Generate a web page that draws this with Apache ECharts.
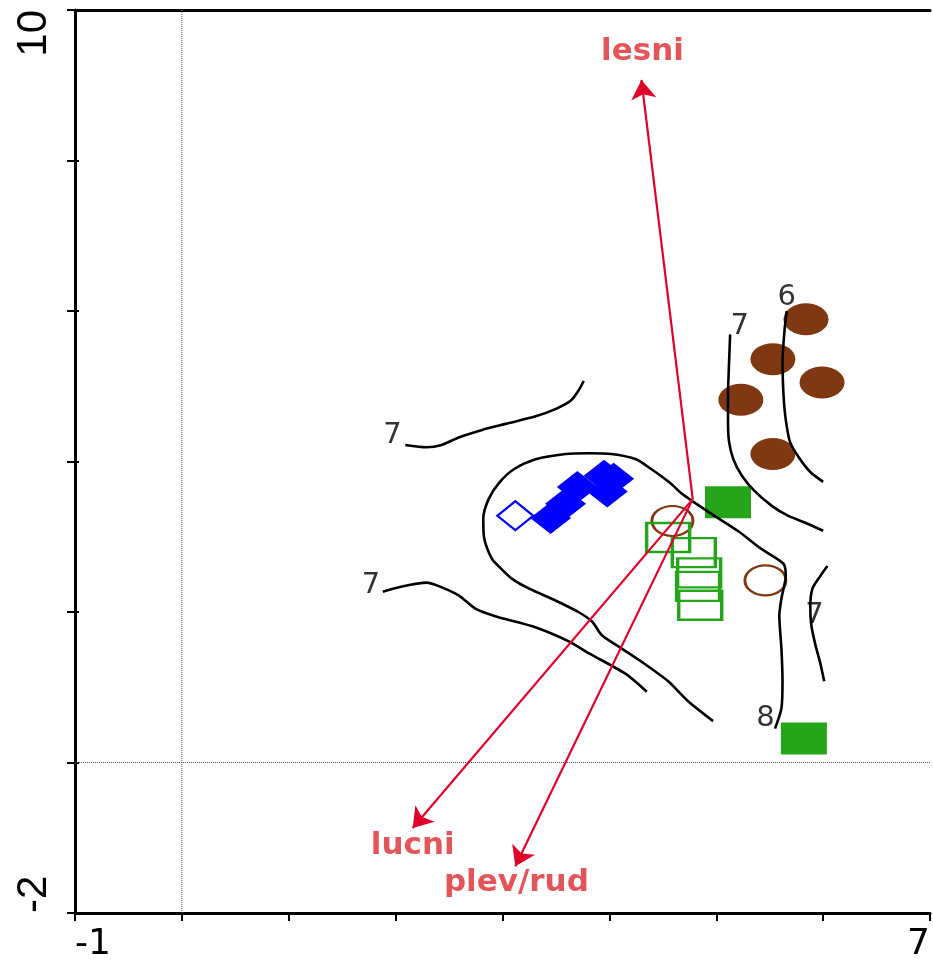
<!DOCTYPE html>
<html>
<head>
<meta charset="utf-8">
<script src="https://cdn.jsdelivr.net/npm/echarts@6/dist/echarts.min.js"></script>
<style>
  html, body { margin: 0; padding: 0; background: #fff; }
  #chart { width: 933px; height: 963px; }
</style>
</head>
<body>
<div id="chart"></div>
<script>
// Axis labels shown at the ends of each axis
const xTickLabels = [-1, 7];
const yTickLabels = [-2, 10];

// Species-group arrows, all drawn from one common origin
const arrowNames = ['lesni', 'lucni', 'plev/rud'];
const arrowOrigin = [4.78, 3.50];
const arrowTips = [[4.30, 9.07], [2.16, -0.87], [3.12, -1.38]];
const arrowLabelPos = [[4.31, 9.44], [2.16, -1.11], [3.13, -1.60]];

// Sample scores by group
const brownFilled = [[5.84, 5.89], [5.53, 5.36], [5.99, 5.05], [5.23, 4.82], [5.53, 4.10]];
const brownOpen = [[4.59, 3.21], [5.46, 2.42]];
const greenFilled = [[5.11, 3.46], [5.82, 0.32]];
const greenOpen = [[4.55, 2.99], [4.79, 2.79], [4.84, 2.52], [4.83, 2.34], [4.85, 2.09]];
const blueFilled = [[3.45, 3.25], [3.59, 3.44], [3.70, 3.66], [3.95, 3.81], [4.04, 3.77], [3.98, 3.60]];
const blueOpen = [[3.12, 3.28]];

// Isolines of the fitted surface
const contourA = [[2.09, 4.22], [2.29, 4.19], [2.43, 4.22], [2.59, 4.32], [2.81, 4.42], [3.03, 4.50],
  [3.31, 4.60], [3.50, 4.70], [3.64, 4.81], [3.71, 4.94], [3.76, 5.07]];
const contourB = [[5.55, 0.45], [5.61, 0.72], [5.62, 1.08], [5.61, 1.51], [5.59, 1.95], [5.61, 2.18],
  [5.65, 2.48], [5.63, 2.64], [5.42, 2.84], [5.21, 3.07], [4.96, 3.30], [4.79, 3.46], [4.68, 3.57],
  [4.58, 3.70], [4.49, 3.80], [4.39, 3.90], [4.25, 4.03], [4.02, 4.10], [3.81, 4.11], [3.59, 4.10],
  [3.31, 4.03], [3.11, 3.90], [2.97, 3.72], [2.87, 3.50], [2.82, 3.24], [2.83, 2.97], [2.90, 2.71],
  [2.97, 2.60], [3.09, 2.44], [3.25, 2.31], [3.50, 2.15], [3.71, 2.00], [3.84, 1.87], [3.93, 1.69],
  [4.12, 1.51], [4.30, 1.34], [4.55, 1.08], [4.74, 0.81], [4.97, 0.55]];
const contourC = [[1.88, 2.27], [2.06, 2.34], [2.29, 2.39], [2.41, 2.34], [2.59, 2.22], [2.75, 2.04],
  [2.94, 1.94], [3.28, 1.81], [3.62, 1.61], [3.81, 1.45], [4.15, 1.18], [4.35, 0.94]];
const contourD = [[5.13, 5.69], [5.12, 5.32], [5.11, 4.87], [5.11, 4.52], [5.12, 4.26], [5.16, 4.03],
  [5.24, 3.81], [5.35, 3.62], [5.52, 3.41], [5.67, 3.28], [5.86, 3.17], [6.00, 3.08]];
const contourE = [[5.66, 6.00], [5.64, 5.76], [5.62, 5.32], [5.63, 4.87], [5.65, 4.56], [5.69, 4.26],
  [5.77, 4.06], [5.88, 3.86], [6.00, 3.73]];
const contourF = [[6.04, 2.61], [5.97, 2.47], [5.90, 2.31], [5.88, 2.08], [5.89, 1.82], [5.93, 1.55],
  [5.97, 1.34], [6.01, 1.08]];
const contourLines = [contourA, contourB, contourC, contourD, contourE, contourF];

const contourLevels = ['7', '8', '7', '7', '6', '7'];
const contourLabelPos = [[1.97, 4.34], [5.46, 0.59], [1.77, 2.35], [5.22, 5.80], [5.66, 6.18], [5.92, 1.95]];

const BROWN = '#803812';
const GREEN = '#25a61a';
const BLUE = '#0000ff';
const RED = '#e0002a';
const RED_TEXT = '#dc2a2e';

const GRID_LEFT = 75;
const GRID_RIGHT = 1;
const CHART_W = 933;

const chart = echarts.init(document.getElementById('chart'));

function markerSeries(data, symbol, size, fill, stroke, strokeWidth) {
  return {
    type: 'scatter',
    data: data,
    symbol: symbol,
    symbolSize: size,
    itemStyle: {
      color: fill,
      borderColor: stroke || fill,
      borderWidth: strokeWidth || 0,
      opacity: 1
    },
    z: 2,
    silent: true
  };
}

const series = [];

// Dotted reference lines through the origin
series.push({
  type: 'line', data: [[0, -2], [0, 10]], showSymbol: false, silent: true, z: 1,
  lineStyle: { color: '#555', width: 1, type: 'dotted' }
});
series.push({
  type: 'line', data: [[-1, 0], [7, 0]], showSymbol: false, silent: true, z: 1,
  lineStyle: { color: '#555', width: 1, type: 'dotted' }
});

series.push(markerSeries(brownFilled, 'circle', [45, 32], BROWN));
series.push(markerSeries(brownOpen, 'circle', [41, 30], 'rgba(0,0,0,0)', BROWN, 2.5));
series.push(markerSeries(greenFilled, 'rect', [46, 32], GREEN));
series.push(markerSeries(greenOpen, 'rect', [43, 29], 'rgba(0,0,0,0)', GREEN, 2.8));
series.push(markerSeries(blueFilled, 'diamond', [41, 32], BLUE));
series.push(markerSeries(blueOpen, 'diamond', [36, 29], 'rgba(0,0,0,0)', BLUE, 2.2));

contourLines.forEach(function (pts) {
  series.push({
    type: 'line', data: pts, showSymbol: false, smooth: 0.25, silent: true, z: 4,
    lineStyle: { color: '#000', width: 2.6 }
  });
});

series.push({
  type: 'scatter', silent: true, z: 5,
  symbol: 'circle', symbolSize: 1, itemStyle: { color: 'rgba(0,0,0,0)' },
  data: contourLabelPos.map(function (p, i) { return { value: p, name: contourLevels[i] }; }),
  label: {
    show: true, position: 'inside', formatter: function (p) { return p.name; },
    color: '#000', fontFamily: 'DejaVu Sans', fontSize: 29
  }
});

series.push({
  type: 'lines', coordinateSystem: 'cartesian2d', silent: true, z: 6,
  symbol: ['none', 'arrow'], symbolSize: [14, 19],
  lineStyle: { color: RED, width: 2.2, opacity: 1 },
  data: arrowTips.map(function (t) { return { coords: [arrowOrigin, t] }; })
});

series.push({
  type: 'scatter', silent: true, z: 7,
  symbol: 'circle', symbolSize: 1, itemStyle: { color: 'rgba(0,0,0,0)' },
  data: arrowLabelPos.map(function (p, i) { return { value: p, name: arrowNames[i] }; }),
  label: {
    show: true, position: 'inside', formatter: function (p) { return p.name; },
    color: RED_TEXT, fontFamily: 'DejaVu Sans', fontWeight: 'bold', fontSize: 31
  }
});

chart.setOption({
  animation: false,
  backgroundColor: '#fff',
  grid: { left: GRID_LEFT, right: GRID_RIGHT, top: 10, bottom: 48, containLabel: false },
  xAxis: [{
    type: 'value', min: -1, max: 7, interval: 1, position: 'bottom',
    axisLine: { show: true, onZero: false, lineStyle: { color: '#000', width: 3 } },
    axisTick: { show: true, length: 8, lineStyle: { color: '#000', width: 2 } },
    splitLine: { show: false },
    axisLabel: {
      show: true, margin: 14, color: '#000', fontFamily: 'DejaVu Sans', fontSize: 36,
      alignMinLabel: 'left', alignMaxLabel: 'right',
      formatter: function (v) { return xTickLabels.indexOf(v) >= 0 ? String(v) : ''; }
    }
  }, {
    type: 'value', min: -1, max: 7, position: 'top',
    axisLine: { show: true, onZero: false, lineStyle: { color: '#000', width: 3 } },
    axisTick: { show: false }, axisLabel: { show: false }, splitLine: { show: false }
  }],
  yAxis: [{
    type: 'value', min: -2, max: 10, interval: 2, position: 'left',
    axisLine: { show: true, onZero: false, lineStyle: { color: '#000', width: 3 } },
    axisTick: { show: true, length: 8, lineStyle: { color: '#000', width: 2 } },
    splitLine: { show: false },
    axisLabel: {
      show: true, rotate: 90, margin: 20, color: '#000',
      fontFamily: 'Liberation Sans', fontSize: 42,
      alignMinLabel: 'left', alignMaxLabel: 'right',
      formatter: function (v) { return yTickLabels.indexOf(v) >= 0 ? String(v) : ''; }
    }
  }, {
    // short tick stubs on the inner side of the left axis
    type: 'value', min: -2, max: 10, interval: 2, position: 'right',
    offset: -(CHART_W - GRID_LEFT - GRID_RIGHT),
    axisLine: { show: false, onZero: false },
    axisTick: { show: true, inside: false, length: 6, lineStyle: { color: '#000', width: 2 } },
    axisLabel: { show: false }, splitLine: { show: false }
  }],
  series: series
});
</script>
</body>
</html>
